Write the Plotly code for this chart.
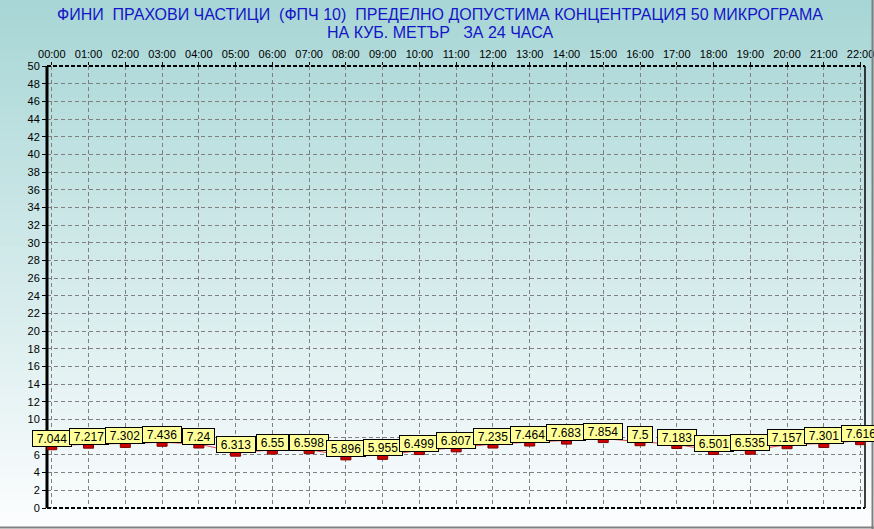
import plotly.graph_objects as go

hours = ["00:00", "01:00", "02:00", "03:00", "04:00", "05:00", "06:00", "07:00",
         "08:00", "09:00", "10:00", "11:00", "12:00", "13:00", "14:00", "15:00",
         "16:00", "17:00", "18:00", "19:00", "20:00", "21:00", "22:00"]
pm10 = [7.044, 7.217, 7.302, 7.436, 7.24, 6.313, 6.55, 6.598, 5.896, 5.955, 6.499,
        6.807, 7.235, 7.464, 7.683, 7.854, 7.5, 7.183, 6.501, 6.535, 7.157, 7.301, 7.616]
y_ticks = list(range(0, 51, 2))

title_1 = "ФИНИ\u00a0\u00a0ПРАХОВИ ЧАСТИЦИ\u00a0\u00a0(ФПЧ 10)\u00a0\u00a0ПРЕДЕЛНО ДОПУСТИМА КОНЦЕНТРАЦИЯ 50 МИКРОГРАМА"
title_2 = "НА КУБ. МЕТЪР\u00a0\u00a0\u00a0ЗА 24 ЧАСА"

W, H = 874, 529
L, R, T, B = 47, 9, 66, 21
pw, ph = W - L - R, H - T - B
x_idx = list(range(len(hours)))


def py(pix):
    # figure pixel row -> paper coordinate
    return 1 + (T - pix) / ph


fig = go.Figure()
fig.add_trace(go.Scatter(x=x_idx, y=pm10, mode="lines",
                         line=dict(color="#e04848", width=1), hoverinfo="skip",
                         showlegend=False))

shapes = []
# background gradient, teal at top fading to white
n = 60
top = (168, 214, 214)
bot = (252, 253, 254)
for i in range(n):
    f = i / (n - 1)
    c = tuple(round(top[k] + (bot[k] - top[k]) * f) for k in range(3))
    y1 = 1 + T / ph - i * (H / ph) / n
    y0 = y1 - (H / ph) / n - 0.002
    shapes.append(dict(type="rect", xref="paper", yref="paper", layer="below",
                       x0=-L / pw, x1=1 + R / pw, y0=y0, y1=y1,
                       fillcolor="rgb(%d,%d,%d)" % c, line_width=0))

# plot frame
shapes += [
    dict(type="line", xref="paper", yref="paper", x0=0, x1=1, y0=1, y1=1,
         line=dict(color="black", width=2, dash="4px,2px")),
    dict(type="line", xref="paper", yref="paper", x0=0, x1=1, y0=0, y1=0,
         line=dict(color="black", width=2, dash="4px,2px")),
    dict(type="line", xref="paper", yref="paper", x0=1, x1=1, y0=0, y1=1,
         line=dict(color="black", width=1.5)),
    dict(type="line", xref="paper", yref="paper", x0=0, x1=0, y0=0, y1=1,
         line=dict(color="black", width=3)),
    # outer grey frame right and bottom
    dict(type="line", xref="paper", yref="paper", x0=1 + (R - 1.5) / pw, x1=1 + (R - 1.5) / pw,
         y0=-B / ph, y1=1 + T / ph, line=dict(color="#808080", width=2)),
    dict(type="line", xref="paper", yref="paper", x0=-L / pw, x1=1 + R / pw,
         y0=-(B - 1.5) / ph, y1=-(B - 1.5) / ph, line=dict(color="#808080", width=2)),
]

# red rectangular markers
for xi, v in zip(x_idx, pm10):
    shapes.append(dict(type="rect", xref="x", yref="y", xsizemode="pixel", ysizemode="pixel",
                       xanchor=xi, yanchor=v, x0=-5, x1=5, y0=-4, y1=3,
                       fillcolor="#cc0000", line=dict(color="#800000", width=1)))

annotations = []
for xi, v in zip(x_idx, pm10):
    annotations.append(dict(x=xi, y=v, xref="x", yref="y",
                            text="\u00a0" + str(v) + "\u00a0", showarrow=False,
                            yanchor="bottom", yshift=-1,
                            font=dict(family="Liberation Sans, Arial", size=12, color="black"),
                            bgcolor="#ffff99", bordercolor="black", borderwidth=1, borderpad=0.5))

for txt, yc in ((title_1, 15), (title_2, 32)):
    annotations.append(dict(xref="paper", yref="paper", x=(440 - L) / pw, y=py(yc),
                            yanchor="middle", showarrow=False, text=txt,
                            font=dict(family="Liberation Sans, Arial", size=16, color="#1414c8")))

fig.update_layout(
    width=W, height=H,
    margin=dict(l=L, r=R, t=T, b=B, autoexpand=False),
    paper_bgcolor="white",
    plot_bgcolor="rgba(0,0,0,0)",
    shapes=shapes,
    annotations=annotations,
    showlegend=False,
    font=dict(family="Liberation Sans, Arial", size=11, color="black"),
    xaxis=dict(range=[-0.13, 22.12], side="top", tickvals=x_idx, ticktext=hours,
               showgrid=True, gridcolor="#808080", griddash="4px,3px", gridwidth=1,
               ticks="outside", ticklen=3, tickcolor="black", zeroline=False,
               showline=False, tickfont=dict(size=11), ticklabeloverflow="allow"),
    yaxis=dict(range=[0, 50], tickvals=y_ticks, showgrid=True, gridcolor="#808080",
               griddash="4px,3px", gridwidth=1, ticks="outside", ticklen=4, tickcolor="black",
               zeroline=False, showline=False, tickfont=dict(size=11)),
)

fig.write_html("out.html", config={"displayModeBar": False},
               post_script="document.body.style.margin='0';")
